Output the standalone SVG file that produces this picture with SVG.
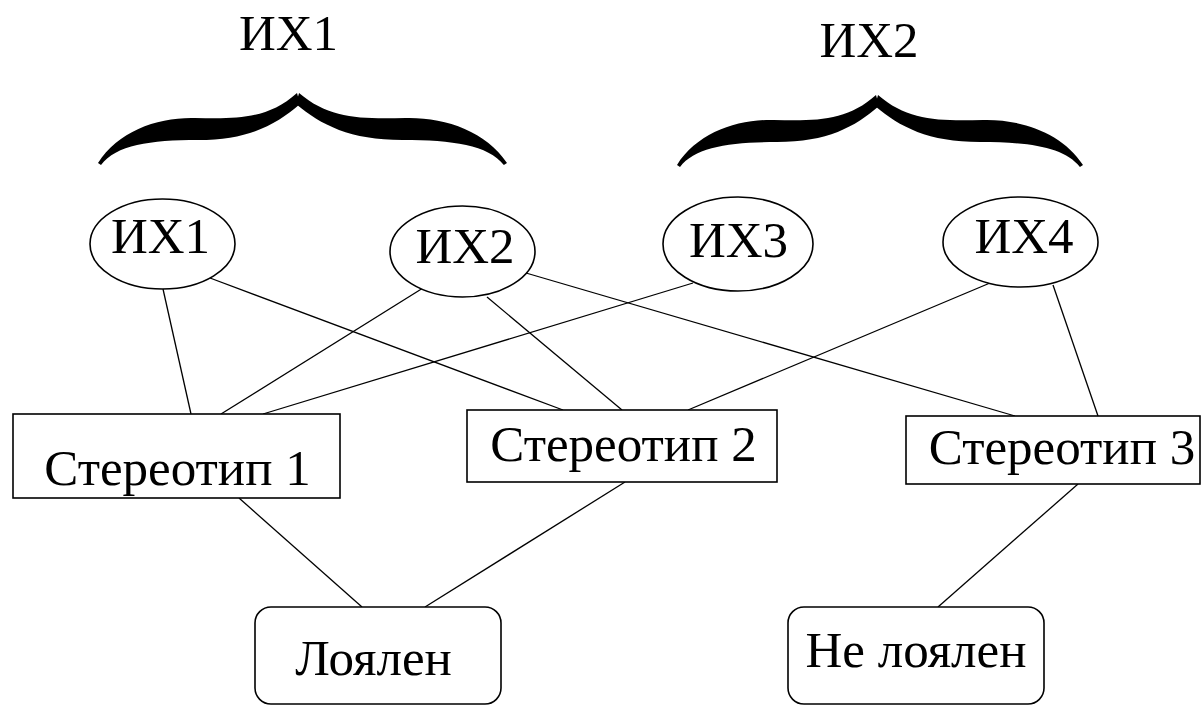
<svg xmlns="http://www.w3.org/2000/svg" xmlns:xlink="http://www.w3.org/1999/xlink" width="1204" height="706" viewBox="0 0 1204 706">
  <style>
    .bg { fill: #ffffff; }
    .shape { fill: #ffffff; stroke: #000000; stroke-width: 1.6; }
    .edge { stroke: #000000; stroke-width: 1.3; fill: none; }
    .label { font-family: "Liberation Serif", "Times New Roman", serif; font-size: 51px; fill: #000000; text-anchor: middle; }
    .brace { fill: #000000; }
  </style>
  <defs>
    <!-- left half of a horizontal curly brace, tip at the origin -->
    <path id="half-brace" d="M -200,68 C -180,36 -140,22 -103,23 C -60,24 -30,24 -1,-2 L 2,9 C -22,30 -50,45 -100,45 C -148,45 -182,50 -197,70 Z"/>
  </defs>

  <rect class="bg" x="0" y="0" width="1204" height="706"/>

  <!-- group braces and their captions -->
  <g id="group-1">
    <use xlink:href="#half-brace" class="brace" transform="translate(298,95)"/>
    <use xlink:href="#half-brace" class="brace" transform="translate(298,95) scale(-1.045,1)"/>
    <text class="label" x="288.5" y="50">ИХ1</text>
  </g>
  <g id="group-2">
    <use xlink:href="#half-brace" class="brace" transform="translate(877,97)"/>
    <use xlink:href="#half-brace" class="brace" transform="translate(877,97) scale(-1.03,1)"/>
    <text class="label" x="869" y="57">ИХ2</text>
  </g>

  <!-- connectors -->
  <g id="connectors">
    <line class="edge" x1="163" y1="289" x2="191" y2="414"/>
    <line class="edge" x1="210" y1="278" x2="563" y2="410"/>
    <line class="edge" x1="423" y1="288" x2="221" y2="414"/>
    <line class="edge" x1="693" y1="283" x2="263" y2="414"/>
    <line class="edge" x1="487" y1="297" x2="622" y2="410"/>
    <line class="edge" x1="526" y1="273" x2="1015" y2="416"/>
    <line class="edge" x1="990" y1="283" x2="688" y2="410"/>
    <line class="edge" x1="1053" y1="285" x2="1098" y2="416"/>
    <line class="edge" x1="239" y1="498" x2="362" y2="607"/>
    <line class="edge" x1="625" y1="482" x2="425" y2="607"/>
    <line class="edge" x1="1078" y1="484" x2="938" y2="607"/>
  </g>

  <!-- characteristic nodes -->
  <g id="ix1">
    <ellipse class="shape" cx="162.5" cy="244" rx="72.5" ry="45"/>
    <text class="label" x="160.5" y="253">ИХ1</text>
  </g>
  <g id="ix2">
    <ellipse class="shape" cx="462.5" cy="251.5" rx="72.5" ry="45.5"/>
    <text class="label" x="465" y="263">ИХ2</text>
  </g>
  <g id="ix3">
    <ellipse class="shape" cx="738" cy="244" rx="75" ry="47"/>
    <text class="label" x="738.5" y="257">ИХ3</text>
  </g>
  <g id="ix4">
    <ellipse class="shape" cx="1020.5" cy="242" rx="77.5" ry="45"/>
    <text class="label" x="1024" y="253">ИХ4</text>
  </g>

  <!-- stereotype nodes -->
  <g id="stereotype-1">
    <rect class="shape" x="13" y="414" width="327" height="84"/>
    <text class="label" x="177.5" y="485">Стереотип 1</text>
  </g>
  <g id="stereotype-2">
    <rect class="shape" x="467" y="410" width="310" height="72"/>
    <text class="label" x="623.5" y="461">Стереотип 2</text>
  </g>
  <g id="stereotype-3">
    <rect class="shape" x="906" y="416" width="294" height="68"/>
    <text class="label" x="1062" y="464">Стереотип 3</text>
  </g>

  <!-- outcome nodes -->
  <g id="loyal">
    <rect class="shape" x="255" y="607" width="246" height="97" rx="16" ry="16"/>
    <text class="label" x="373.5" y="675">Лоялен</text>
  </g>
  <g id="not-loyal">
    <rect class="shape" x="788" y="607" width="256" height="97" rx="16" ry="16"/>
    <text class="label" x="916" y="667">Не лоялен</text>
  </g>
</svg>
